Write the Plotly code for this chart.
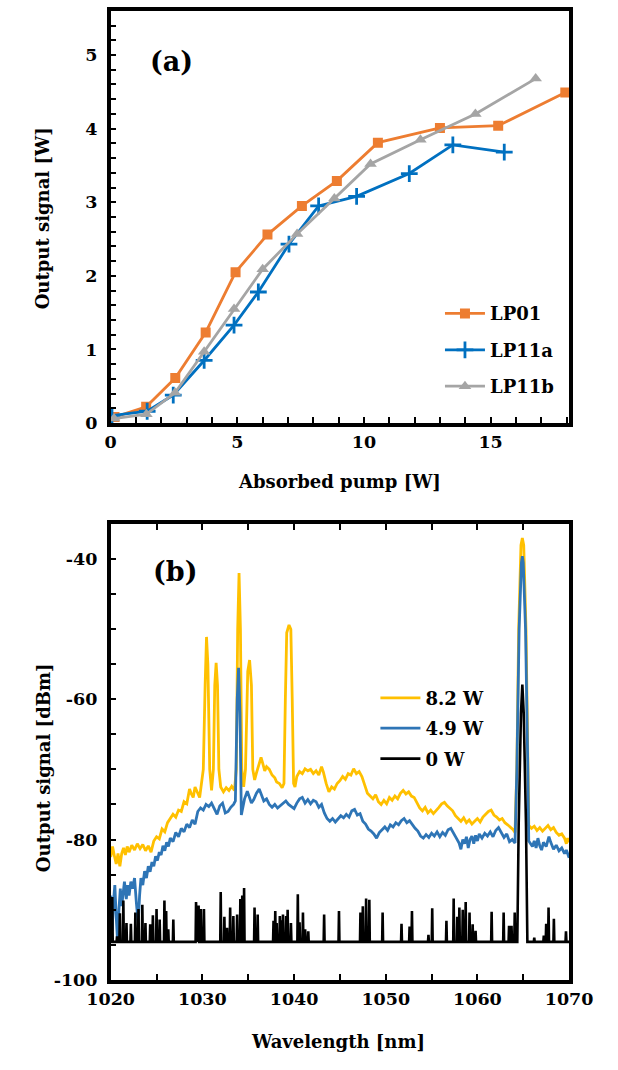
import plotly.graph_objects as go

# ---------------- (a) output signal vs absorbed pump ----------------
lp01_x = [0.15, 1.4, 2.55, 3.75, 4.93, 6.19, 7.55, 8.93, 10.55, 13.0, 15.3, 17.95]
lp01_y = [0.08, 0.22, 0.61, 1.23, 2.05, 2.56, 2.95, 3.29, 3.81, 4.01, 4.04, 4.49]

lp11a_x = [0.05, 1.44, 2.47, 3.69, 4.87, 5.83, 7.04, 8.21, 9.71, 11.79, 13.51, 15.54]
lp11a_y = [0.10, 0.16, 0.38, 0.85, 1.33, 1.78, 2.43, 2.95, 3.08, 3.39, 3.78, 3.68]

lp11b_x = [0.13, 1.41, 2.54, 3.69, 4.87, 6.0, 7.36, 8.83, 10.26, 12.23, 14.4, 16.78]
lp11b_y = [0.06, 0.12, 0.41, 0.97, 1.55, 2.09, 2.57, 3.05, 3.52, 3.85, 4.20, 4.68]

a_xticks = [0, 5, 10, 15]
a_yticks = [0, 1, 2, 3, 4, 5]

# ---------------- (b) output spectra ----------------
y82_nm = [1020.0, 1020.2, 1020.4, 1020.6, 1020.8, 1021.0, 1021.2, 1021.4, 1021.6, 1021.8,
          1022.0, 1022.3, 1022.6, 1022.9, 1023.2, 1023.5, 1023.8, 1024.1, 1024.4, 1024.7,
          1025.0, 1025.3, 1025.6, 1025.9, 1026.2, 1026.5, 1026.8, 1027.1, 1027.4, 1027.7,
          1028.0, 1028.3, 1028.6, 1028.8, 1029.0, 1029.2, 1029.4, 1029.7, 1029.9, 1030.1,
          1030.3, 1030.45, 1030.6, 1030.8, 1031.0, 1031.2, 1031.35, 1031.5, 1031.65, 1031.8,
          1032.0, 1032.3, 1032.6, 1032.9, 1033.2, 1033.5, 1033.7, 1033.85, 1034.0, 1034.15,
          1034.3, 1034.5, 1034.7, 1034.95, 1035.15, 1035.35, 1035.5, 1035.7, 1035.9, 1036.1,
          1036.4, 1036.6, 1036.8, 1037.0, 1037.3, 1037.6, 1037.9, 1038.1, 1038.4, 1038.7,
          1038.9, 1039.05, 1039.2, 1039.45, 1039.65, 1039.8, 1039.95, 1040.1, 1040.3, 1040.6,
          1040.9, 1041.2, 1041.5, 1041.8, 1042.1, 1042.4, 1042.7, 1043.0, 1043.2, 1043.5,
          1043.8, 1044.1, 1044.4, 1044.7, 1045.0, 1045.3, 1045.6, 1045.9, 1046.2, 1046.5,
          1046.8, 1047.1, 1047.4, 1047.7, 1048.0, 1048.3, 1048.6, 1048.9, 1049.2, 1049.5,
          1049.8, 1050.1, 1050.4, 1050.7, 1051.0, 1051.3, 1051.6, 1051.9, 1052.2, 1052.5,
          1052.8, 1053.1, 1053.4, 1053.7, 1054.0, 1054.3, 1054.6, 1054.9, 1055.2, 1055.5,
          1055.8, 1056.1, 1056.4, 1056.7, 1057.0, 1057.3, 1057.6, 1057.9, 1058.2, 1058.5,
          1058.8, 1059.1, 1059.4, 1059.7, 1060.0, 1060.3, 1060.6, 1060.9, 1061.2, 1061.5,
          1061.8, 1062.1, 1062.4, 1062.7, 1063.0, 1063.3, 1063.6, 1063.9, 1064.1, 1064.3,
          1064.5, 1064.75, 1064.9, 1065.05, 1065.3, 1065.5, 1065.6, 1065.9, 1066.2, 1066.5,
          1066.8, 1067.1, 1067.4, 1067.7, 1068.0, 1068.3, 1068.6, 1068.9, 1069.2, 1069.5,
          1069.7, 1069.85, 1070.0]
y82_db = [-82.5, -81.0, -82.3, -83.5, -82.0, -83.8, -82.0, -81.2, -82.2, -81.0,
          -81.8, -80.8, -81.5, -80.6, -81.3, -80.7, -81.6, -80.9, -81.8, -80.2,
          -79.6, -79.9, -78.5, -78.9, -77.6, -77.0, -76.4, -76.8, -75.8, -76.0,
          -74.6, -74.9, -72.8, -73.5, -74.0, -72.5, -73.2, -74.0, -72.0, -70.0,
          -58.0, -51.1, -55.0, -70.0, -73.0, -70.0, -58.0, -54.8, -58.0, -70.0,
          -72.5, -73.2, -72.6, -73.0, -72.4, -73.0, -70.0, -50.0, -42.0, -50.0,
          -70.0, -72.5, -70.0, -56.0, -54.4, -58.0, -70.0, -71.5, -70.5, -69.5,
          -68.3, -69.2, -70.2, -69.6, -70.0, -70.8, -71.2, -71.8, -72.0, -72.6,
          -72.0, -60.0, -50.5, -49.4, -50.0, -60.0, -72.0, -72.5, -71.0, -70.3,
          -70.6, -69.9, -70.2, -70.0, -70.6, -70.2, -70.8, -69.6, -70.4, -72.0,
          -73.2, -72.5, -72.8, -72.0, -71.6, -71.0, -71.4, -70.6, -70.8, -69.9,
          -70.6, -70.3, -71.0, -72.2, -73.4, -73.8, -74.2, -73.6, -74.6, -75.0,
          -74.4, -74.9, -74.0, -74.4, -73.8, -74.2, -73.4, -73.0, -73.5, -73.2,
          -73.8, -74.0, -74.8, -75.5, -75.9, -75.4, -76.2, -75.8, -76.3, -75.9,
          -75.4, -74.9, -74.7, -75.2, -75.5, -75.9, -76.6, -77.0, -77.4, -76.9,
          -77.6, -77.2, -77.8, -77.4, -77.0, -77.5, -76.8, -76.4, -76.0, -75.8,
          -76.5, -76.8, -77.2, -77.0, -77.6, -77.9, -78.2, -78.6, -79.0, -70.0,
          -50.0, -38.0, -37.0, -38.0, -50.0, -70.0, -78.0, -78.4, -78.1, -78.7,
          -78.3, -78.8, -78.4, -78.0, -78.6, -78.3, -79.0, -79.4, -79.2, -79.8,
          -80.6, -79.8, -80.4]

y49_nm = [1020.0, 1020.15, 1020.3, 1020.45, 1020.6, 1020.75, 1020.9, 1021.05, 1021.2, 1021.35,
          1021.5, 1021.7, 1021.85, 1022.0, 1022.2, 1022.4, 1022.6, 1022.8, 1023.0, 1023.15,
          1023.3, 1023.5, 1023.7, 1023.9, 1024.1, 1024.3, 1024.5, 1024.7, 1024.9, 1025.1,
          1025.3, 1025.5, 1025.7, 1025.9, 1026.1, 1026.3, 1026.5, 1026.8, 1027.1, 1027.4,
          1027.7, 1028.0, 1028.3, 1028.6, 1028.9, 1029.2, 1029.5, 1029.8, 1030.1, 1030.4,
          1030.7, 1031.0, 1031.3, 1031.6, 1031.9, 1032.2, 1032.5, 1032.8, 1033.1, 1033.4,
          1033.6, 1033.8, 1033.95, 1034.1, 1034.25, 1034.4, 1034.6, 1034.9, 1035.1, 1035.35,
          1035.6, 1035.9, 1036.2, 1036.4, 1036.7, 1037.0, 1037.3, 1037.6, 1037.9, 1038.2,
          1038.5, 1038.8, 1039.1, 1039.4, 1039.7, 1040.0, 1040.3, 1040.6, 1040.9, 1041.2,
          1041.5, 1041.8, 1042.1, 1042.4, 1042.7, 1043.0, 1043.3, 1043.6, 1043.9, 1044.2,
          1044.5, 1044.8, 1045.1, 1045.4, 1045.7, 1046.0, 1046.3, 1046.6, 1046.9, 1047.2,
          1047.5, 1047.8, 1048.1, 1048.4, 1048.7, 1049.0, 1049.3, 1049.6, 1049.9, 1050.2,
          1050.5, 1050.8, 1051.1, 1051.4, 1051.7, 1052.0, 1052.3, 1052.6, 1052.9, 1053.2,
          1053.5, 1053.8, 1054.1, 1054.4, 1054.7, 1055.0, 1055.3, 1055.6, 1055.9, 1056.2,
          1056.5, 1056.8, 1057.1, 1057.4, 1057.7, 1058.0, 1058.2, 1058.4, 1058.6, 1058.8,
          1059.0, 1059.2, 1059.4, 1059.6, 1059.8, 1060.0, 1060.2, 1060.5, 1060.8, 1061.1,
          1061.4, 1061.7, 1062.0, 1062.3, 1062.6, 1062.9, 1063.2, 1063.5, 1063.8, 1064.1,
          1064.3, 1064.55, 1064.8, 1064.9, 1065.0, 1065.25, 1065.5, 1065.6, 1065.8, 1066.0,
          1066.2, 1066.4, 1066.6, 1066.8, 1067.0, 1067.2, 1067.5, 1067.8, 1068.0, 1068.3,
          1068.6, 1068.9, 1069.2, 1069.5, 1069.7, 1070.0]
y49_db = [-88.0, -93.0, -89.0, -86.5, -91.0, -94.5, -90.0, -87.0, -89.5, -87.5,
          -86.0, -88.5, -86.5, -88.0, -86.0, -87.0, -85.5, -89.0, -92.0, -88.0,
          -85.5, -86.5, -84.5, -85.5, -83.8, -84.6, -83.2, -83.8, -82.4, -83.0,
          -81.8, -82.2, -80.9, -81.6, -80.4, -81.0, -79.8, -80.3, -79.0, -79.6,
          -78.4, -78.9, -77.8, -78.3, -77.2, -77.8, -76.0, -75.5, -75.8, -75.0,
          -75.3, -74.8, -75.6, -76.4, -75.2, -74.8, -76.2, -76.0, -75.4, -75.0,
          -74.5, -60.0, -55.5, -62.0, -76.5, -75.5, -74.2, -73.1, -74.0, -74.8,
          -74.3, -73.4, -72.8, -73.5, -74.5, -74.2, -75.0, -75.4, -75.0, -75.5,
          -75.2, -74.8, -74.5, -75.0, -75.3, -75.6, -74.8, -74.2, -74.0, -74.8,
          -74.3, -74.9, -74.4, -74.6, -75.4, -75.0, -76.2, -77.0, -77.4, -77.0,
          -77.5, -77.0, -76.6, -76.9, -76.4, -76.8, -75.9, -75.7, -76.5, -76.3,
          -77.4, -77.8, -78.5, -78.8, -79.2, -79.8, -79.0, -78.6, -78.2, -78.7,
          -77.9, -78.2, -77.6, -77.9, -77.3, -77.0, -77.6, -77.3, -77.9, -78.4,
          -78.8, -79.5, -79.8, -79.3, -79.7, -79.1, -79.5, -78.9, -79.6, -79.0,
          -79.4, -78.6, -78.4, -79.2, -79.8, -80.5, -81.4, -80.0, -80.6, -79.6,
          -81.2, -80.0, -79.5, -80.6, -79.4, -80.2, -79.2, -79.8, -79.1, -79.5,
          -78.9, -79.6, -78.7, -78.3, -79.0, -79.7, -79.2, -80.3, -80.0, -80.5,
          -70.0, -50.0, -40.5, -39.6, -40.5, -50.0, -70.0, -80.2, -80.6, -81.0,
          -80.2, -81.2, -79.8, -80.9, -81.5, -80.4, -81.0, -79.6, -80.4, -81.4,
          -80.8, -81.6, -81.2, -82.0, -81.5, -82.6]

# 0 W trace: noise floor with isolated detector spikes, plus the 1065 nm signal
floor_db = -94.6
spike_nm = [1020.17, 1020.69, 1021.0, 1021.38, 1021.72, 1022.2, 1022.69, 1023.03, 1023.45, 1023.79,
            1024.31, 1024.6, 1025.0, 1025.34, 1025.86, 1026.05, 1026.28, 1026.83, 1029.31, 1029.45,
            1029.59, 1029.83, 1030.17, 1032.0, 1032.4, 1032.69, 1033.03, 1033.38, 1033.79, 1034.14,
            1034.35, 1034.55, 1035.69, 1036.03, 1037.76, 1037.95, 1038.1, 1038.45, 1038.6, 1038.79,
            1039.14, 1039.3, 1039.66, 1040.41, 1040.6, 1040.97, 1041.21, 1041.55, 1043.28, 1044.9,
            1047.24, 1047.5, 1047.86, 1048.21, 1049.66, 1051.72, 1052.6, 1052.86, 1054.66, 1055.07,
            1056.62, 1057.41, 1057.8, 1058.03, 1058.4, 1058.72, 1059.14, 1059.48, 1059.8, 1061.55,
            1062.86, 1063.45, 1063.72, 1064.07]
spike_db = [-88.2, -93.8, -90.5, -88.7, -91.9, -92.0, -90.4, -89.9, -89.3, -91.9,
            -92.1, -90.8, -89.9, -91.4, -88.7, -90.2, -92.8, -91.4, -88.9, -90.5,
            -89.4, -89.9, -89.9, -87.5, -91.0, -92.6, -89.7, -90.9, -90.7, -88.5,
            -88.0, -86.9, -89.7, -90.7, -91.6, -90.2, -91.9, -90.9, -91.5, -90.7,
            -90.9, -90.0, -91.9, -87.8, -91.8, -90.4, -92.8, -93.1, -90.7, -90.2,
            -90.4, -89.5, -88.4, -88.6, -90.4, -92.0, -92.4, -90.2, -93.6, -89.8,
            -91.6, -88.4, -91.0, -89.7, -90.0, -88.9, -90.4, -92.1, -93.0, -90.3,
            -90.4, -92.3, -92.3, -90.4]
signal_nm = [1064.35, 1064.5, 1064.75, 1064.9, 1065.05, 1065.3, 1065.45]
signal_db = [-94.6, -78.0, -62.0, -57.9, -62.0, -78.0, -94.6]
tail_nm = [1066.2, 1067.24, 1067.5, 1067.76, 1068.34, 1069.66]
tail_db = [-94.0, -93.7, -92.0, -89.7, -91.3, -93.1]

b_xticks = [1020, 1030, 1040, 1050, 1060, 1070]
b_yticks = [-100, -80, -60, -40]

# assemble the 0 W trace in wavelength order
black_x, black_y = [1020.0], [floor_db]
half = 0.05
for nm, db in zip(spike_nm, spike_db):
    black_x += [nm - half, nm, nm + half]
    black_y += [floor_db, db, floor_db]
black_x += signal_nm
black_y += signal_db
for nm, db in zip(tail_nm, tail_db):
    black_x += [nm - half, nm, nm + half]
    black_y += [floor_db, db, floor_db]
black_x.append(1070.0)
black_y.append(floor_db)

# ---------------- styling ----------------
W, H = 618, 1070
FONT = "DejaVu Serif"
ORANGE, BLUE_A, GRAY = "#ED7D31", "#0070C0", "#A5A5A5"
GOLD, BLUE_B = "#FFC000", "#2E75B6"
LEFT, RIGHT = 94, 591

def px_x(p):
    return p / W

def px_y(p):
    return 1 - p / H

fig = go.Figure()

fig.add_trace(go.Scatter(x=lp01_x, y=lp01_y, name="LP01", mode="lines+markers",
                         line=dict(color=ORANGE, width=2.8),
                         marker=dict(symbol="square", size=10, color=ORANGE),
                         xaxis="x", yaxis="y", legend="legend", legendgroup="a1"))
fig.add_trace(go.Scatter(x=lp11a_x, y=lp11a_y, name="LP11a", mode="lines+markers",
                         line=dict(color=BLUE_A, width=2.8),
                         marker=dict(symbol="cross-thin", size=12, color=BLUE_A,
                                     line=dict(color=BLUE_A, width=2.8)),
                         xaxis="x", yaxis="y", legend="legend", legendgroup="a2"))
fig.add_trace(go.Scatter(x=lp11b_x, y=lp11b_y, name="LP11b", mode="lines+markers",
                         line=dict(color=GRAY, width=2.8),
                         marker=dict(symbol="triangle-up", size=11, color=GRAY),
                         xaxis="x", yaxis="y", legend="legend", legendgroup="a3"))

fig.add_trace(go.Scatter(x=y82_nm, y=y82_db, name="8.2 W", mode="lines",
                         line=dict(color=GOLD, width=2.8),
                         xaxis="x2", yaxis="y2", legend="legend2", legendgroup="b1"))
fig.add_trace(go.Scatter(x=y49_nm, y=y49_db, name="4.9 W", mode="lines",
                         line=dict(color=BLUE_B, width=2.8),
                         xaxis="x2", yaxis="y2", legend="legend2", legendgroup="b2"))
fig.add_trace(go.Scatter(x=black_x, y=black_y, name="0 W", mode="lines",
                         line=dict(color="black", width=2.6),
                         xaxis="x2", yaxis="y2", legend="legend2", legendgroup="b3"))

tickfont = dict(family=FONT, size=17.5, color="black", weight="bold")
axis_common = dict(showline=True, linecolor="black", linewidth=3.5, ticks="inside",
                   ticklen=6, tickwidth=1.5, tickcolor="black", showgrid=False,
                   zeroline=False, tickfont=tickfont)
minor_common = dict(ticks="inside", ticklen=6, tickwidth=1.5, tickcolor="black")

fig.update_layout(
    width=W, height=H, margin=dict(l=0, r=0, t=0, b=0),
    paper_bgcolor="white", plot_bgcolor="white",
    font=dict(family=FONT, color="black"),
    xaxis=dict(domain=[px_x(LEFT), px_x(RIGHT)], range=[0, 18.1], anchor="y",
               tickmode="array", tickvals=a_xticks, ticktext=[str(v) for v in a_xticks],
               minor=dict(dtick=1, **minor_common), mirror=True, **axis_common),
    yaxis=dict(domain=[px_y(427), px_y(11)], range=[0, 5.6], anchor="x",
               tickmode="array", tickvals=a_yticks, ticktext=[str(v) for v in a_yticks],
               minor=dict(dtick=0.2, **minor_common), mirror=True, ticklabelstandoff=6,
               **axis_common),
    xaxis2=dict(domain=[px_x(LEFT), px_x(RIGHT)], range=[1020, 1070], anchor="y2",
                tickmode="array", tickvals=b_xticks, ticktext=[str(v) for v in b_xticks],
                minor=dict(dtick=5, **minor_common), mirror="ticks", **axis_common),
    yaxis2=dict(domain=[px_y(989), px_y(529)], range=[-100, -35], anchor="x2",
                tickmode="array", tickvals=b_yticks, ticktext=["-100", "-80", "-60", "-40"],
                minor=dict(dtick=5, **minor_common), mirror=True, ticklabelstandoff=6,
                **axis_common),
    legend=dict(x=px_x(451), y=px_y(298), xanchor="left", yanchor="top",
                bgcolor="rgba(0,0,0,0)", tracegroupgap=10, itemwidth=40,
                font=dict(family=FONT, size=18, color="black", weight="bold")),
    legend2=dict(x=px_x(381), y=px_y(686), xanchor="left", yanchor="top",
                 bgcolor="rgba(0,0,0,0)", tracegroupgap=4, itemwidth=40,
                 font=dict(family=FONT, size=18, color="black", weight="bold")),
    showlegend=True,
)

label_font = dict(family=FONT, size=18, color="black", weight="bold")
panel_font = dict(family=FONT, size=27, color="black", weight="bold")
texts = [
    ("Output signal [W]", 21, 220, -90, label_font),
    ("Absorbed pump [W]", 342, 486, 0, label_font),
    ("Output signal [dBm]", 21, 775, -90, label_font),
    ("Wavelength [nm]", 340, 1051, 0, label_font),
    ("(a)", 160, 62, 0, panel_font),
    ("(b)", 164, 577, 0, panel_font),
]
for txt, xp, yp, ang, fnt in texts:
    fig.add_annotation(text=txt, x=px_x(xp), y=px_y(yp), xref="paper", yref="paper",
                       xanchor="center", yanchor="middle", textangle=ang,
                       showarrow=False, font=fnt)

fig.write_html("out.html")
